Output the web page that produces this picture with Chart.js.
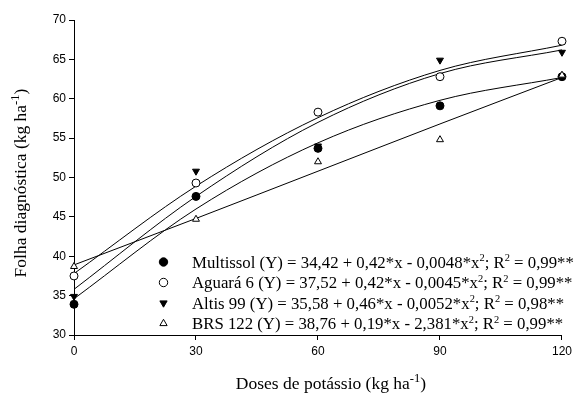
<!DOCTYPE html>
<html><head><meta charset="utf-8">
<script src="https://cdn.jsdelivr.net/npm/chart.js@4/dist/chart.umd.min.js"></script>
<style>html,body{margin:0;padding:0;background:#fff}#wrap{width:576px;height:394px}</style>
</head><body><div id="wrap"><canvas id="c" width="576" height="394"></canvas></div>
<script>
// ---- data ----
const doses = [0, 30, 60, 90, 120];
const yTicks = [30, 35, 40, 45, 50, 55, 60, 65, 70];
const xTicks = [0, 30, 60, 90, 120];
// observed points
const multissolObs = [33.9, 47.6, 53.7, 59.1, 62.8];
const aguaraObs    = [37.5, 49.3, 58.3, 62.8, 67.3];
const altisObs     = [34.9, 50.8, 54.0, 64.9, 65.9];
const brsObs       = [38.7, 44.7, 52.0, 54.8, 63.0];
// fitted curves (values read at the doses)
const multissolFit = [34.6, 46.0, 54.4, 59.8, 62.7];
const aguaraFit    = [37.8, 48.9, 57.6, 63.6, 66.8];
const altisFit     = [35.8, 47.6, 57.0, 63.2, 66.2];
const brsFit       = [38.9, 44.8, 50.8, 56.8, 62.7];
// legend texts (segments; second item = superscript)
const legendEq = [
  [['Multissol (Y) = 34,42 + 0,42*x - 0,0048*x'],['2',1],['; R'],['2',1],[' = 0,99**']],
  [['Aguará 6 (Y) = 37,52 + 0,42*x - 0,0045*x'],['2',1],['; R'],['2',1],[' = 0,99**']],
  [['Altis 99 (Y) = 35,58 + 0,46*x - 0,0052*x'],['2',1],['; R'],['2',1],[' = 0,98**']],
  [['BRS 122 (Y) = 38,76 + 0,19*x - 2,381*x'],['2',1],['; R'],['2',1],[' = 0,99**']]
];
const yTitle = [['Folha diagnóstica (kg ha'],['-1',1],[')']];
const xTitle = [['Doses de potássio (kg ha'],['-1',1],[')']];

const styles = [
  {pointStyle:'circle', rotation:0, bg:'#000'},
  {pointStyle:'circle', rotation:0, bg:'#fff'},
  {pointStyle:'triangle', rotation:180, bg:'#000'},
  {pointStyle:'triangle', rotation:0, bg:'#fff'}
];
const obs = [multissolObs, aguaraObs, altisObs, brsObs];
const fits = [multissolFit, aguaraFit, altisFit, brsFit];
const serif = "'Liberation Serif', 'Times New Roman', serif";
const sans = "'Liberation Sans', Arial, sans-serif";

const datasets = [];
fits.forEach((f, i) => datasets.push({
  data: doses.map((d, k) => ({x: d, y: f[k]})),
  showLine: true, borderColor: '#000', borderWidth: 1, pointRadius: 0,
  cubicInterpolationMode: 'monotone', fill: false, order: 10
}));
obs.forEach((o, i) => datasets.push({
  data: doses.map((d, k) => ({x: d, y: o[k]})),
  showLine: false, pointStyle: styles[i].pointStyle, rotation: styles[i].rotation,
  pointRadius: 4, pointBackgroundColor: styles[i].bg, pointBorderColor: '#000',
  pointBorderWidth: 1, clip: false, order: 4 - i
}));

function richWidth(ctx, segs, size, k) {
  let w = 0;
  segs.forEach(s => { ctx.font = (s[1] ? size*k : size) + 'px ' + serif; w += ctx.measureText(s[0]).width; });
  return w;
}
function drawRich(ctx, segs, x, y, size, k, rise) {
  ctx.textBaseline = 'alphabetic';
  ctx.textAlign = 'left';
  segs.forEach(s => {
    const sz = s[1] ? size*k : size;
    ctx.font = sz + 'px ' + serif;
    ctx.fillText(s[0], x, s[1] ? y - size*rise : y);
    x += ctx.measureText(s[0]).width;
  });
}

const decor = {
  id: 'decor',
  afterDraw(chart) {
    const ctx = chart.ctx;
    const ca = chart.chartArea;
    ctx.save();
    const rows = [262, 282.5, 303, 323.5];
    rows.forEach((ry, i) => {
      ctx.fillStyle = styles[i].bg; ctx.strokeStyle = '#000'; ctx.lineWidth = 1;
      Chart.helpers.drawPoint(ctx, {pointStyle: styles[i].pointStyle, rotation: styles[i].rotation, radius: 4.2, borderWidth: 1}, 163.5, ry);
      ctx.fillStyle = '#000';
      drawRich(ctx, legendEq[i], 192, ry + 5.5, 16.8, 0.62, 0.38);
    });
    // x title
    const sz = 17.5;
    const wx = richWidth(ctx, xTitle, sz, 0.72);
    drawRich(ctx, xTitle, 331 - wx / 2, 389, sz, 0.72, 0.4);
    // y title
    const wy = richWidth(ctx, yTitle, sz, 0.72);
    ctx.translate(26, 183);
    ctx.rotate(-Math.PI / 2);
    drawRich(ctx, yTitle, -wy / 2, 0, sz, 0.72, 0.4);
    ctx.restore();
  }
};

new Chart(document.getElementById('c'), {
  type: 'scatter',
  data: {datasets},
  plugins: [decor],
  options: {
    responsive: false, animation: false, devicePixelRatio: 1,
    layout: {padding: {top: 20, right: 10, left: 0, bottom: 0}},
    plugins: {legend: {display: false}, tooltip: {enabled: false}},
    scales: {
      x: {
        type: 'linear', min: 0, max: 120,
        afterBuildTicks: s => { s.ticks = xTicks.map(v => ({value: v})); },
        afterFit: s => { s.height = 59; },
        grid: {drawOnChartArea: false, drawTicks: true, tickLength: 5, color: '#000', lineWidth: 1},
        border: {color: '#000', width: 1},
        ticks: {color: '#000', font: {family: sans, size: 12}, padding: 4, maxRotation: 0}
      },
      y: {
        type: 'linear', min: 30, max: 70,
        afterBuildTicks: s => { s.ticks = yTicks.map(v => ({value: v})); },
        afterFit: s => { s.width = 74; },
        grid: {drawOnChartArea: false, drawTicks: true, tickLength: 5, color: '#000', lineWidth: 1},
        border: {color: '#000', width: 1},
        ticks: {color: '#000', font: {family: sans, size: 12}, padding: 3}
      }
    }
  }
});
</script></body></html>
